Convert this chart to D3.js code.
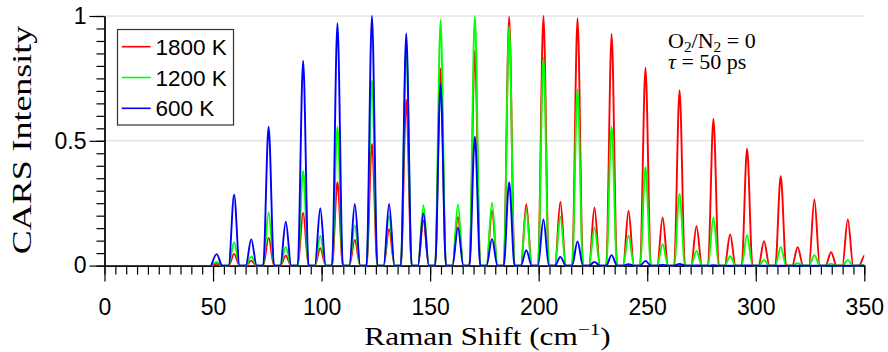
<!DOCTYPE html>
<html>
<head>
<meta charset="utf-8">
<script src="https://cdn.jsdelivr.net/npm/d3@7"></script>
<style>
  body { margin: 0; background: #fff; }
  .axis path, .axis line { stroke: #000; stroke-width: 1.2; }
  .axis text { font-family: "Liberation Sans", Arial, sans-serif; font-size: 23px; fill: #000; }
</style>
</head>
<body>
<script>
// Raman shift of each rotational line (cm^-1)
var peakPos = [51.7, 59.7, 67.6, 75.6, 83.5, 91.5, 99.4, 107.3, 115.3, 123.2,
  131.1, 139.0, 146.9, 154.8, 162.8, 170.6, 178.5, 186.4, 194.3, 202.2,
  210.0, 217.9, 225.7, 233.6, 241.4, 249.2, 257.1, 264.9, 272.7, 280.5,
  288.2, 296.0, 303.8, 311.5, 319.3, 327.0, 334.7, 342.4, 350.1];

// peak heights, one per line
var peaks1800 = [0.007, 0.047, 0.02, 0.112, 0.04, 0.212, 0.07, 0.334, 0.103, 0.487,
  0.146, 0.664, 0.18, 0.79, 0.195, 0.86, 0.22, 0.997, 0.246, 1.0,
  0.256, 0.991, 0.233, 0.928, 0.22, 0.793, 0.193, 0.703, 0.158, 0.588,
  0.125, 0.468, 0.098, 0.359, 0.074, 0.265, 0.054, 0.185, 0.04];
var peaks1200 = [0.015, 0.094, 0.037, 0.214, 0.075, 0.379, 0.12, 0.556, 0.161, 0.743,
  0.2, 0.88, 0.242, 0.984, 0.245, 1.0, 0.252, 0.96, 0.222, 0.833,
  0.196, 0.706, 0.152, 0.556, 0.121, 0.394, 0.086, 0.287, 0.059, 0.193,
  0.038, 0.122, 0.022, 0.074, 0.01, 0.042, 0.008, 0.022, 0.004];
var peaks600 = [0.046, 0.284, 0.106, 0.556, 0.176, 0.821, 0.23, 0.971, 0.247, 1.0,
  0.247, 0.93, 0.21, 0.727, 0.152, 0.516, 0.107, 0.333, 0.062, 0.185,
  0.035, 0.097, 0.015, 0.042, 0.006, 0.019, 0.003, 0.007, 0.001, 0.002,
  0, 0.001, 0, 0, 0, 0, 0, 0, 0];

var seriesNames = ["1800 K", "1200 K", "600 K"];
var seriesColors = ["#ff0000", "#00ff00", "#0000ff"];
var xTicks = [0, 50, 100, 150, 200, 250, 300, 350];
var yTicks = [0, 0.5, 1];
var yTickLabels = ["0", "0.5", "1"];

var width = 888, height = 352;
var halfWidth = 2.5; // half base width of a line, cm^-1

var svg = d3.select("body").append("svg")
  .attr("width", width)
  .attr("height", height)
  .style("font-family", "'Liberation Sans', Arial, sans-serif");

var x = d3.scaleLinear().domain([0, 350]).range([104.5, 864.3]);
var y = d3.scaleLinear().domain([0, 1]).range([265.6, 16]);

// grid
svg.append("g")
  .selectAll("line")
  .data(yTicks.filter(d => d > 0))
  .enter().append("line")
  .attr("x1", x(0)).attr("x2", x(350))
  .attr("y1", d => y(d)).attr("y2", d => y(d))
  .style("stroke", "#d8d8d8")
  .style("stroke-width", 1);

// x axis, minor then major
svg.append("g")
  .attr("class", "axis")
  .attr("transform", `translate(0, ${y(0)})`)
  .call(d3.axisBottom(x).tickValues(d3.range(0, 351, 5)).tickSize(9).tickSizeOuter(0).tickFormat(""));

svg.append("g")
  .attr("class", "axis")
  .attr("transform", `translate(0, ${y(0)})`)
  .call(d3.axisBottom(x).tickValues(xTicks).tickSize(16).tickSizeOuter(0).tickPadding(17));

// y axis
svg.append("g")
  .attr("class", "axis")
  .attr("transform", `translate(${x(0)}, 0)`)
  .call(d3.axisLeft(y).tickValues(d3.range(0, 1.001, 0.05)).tickSize(8).tickSizeOuter(0).tickFormat(""));

svg.append("g")
  .attr("class", "axis")
  .attr("transform", `translate(${x(0)}, 0)`)
  .call(d3.axisLeft(y).tickValues(yTicks).tickSize(15).tickSizeOuter(0).tickPadding(3)
    .tickFormat((d, i) => yTickLabels[i]));

svg.selectAll(".axis .domain").style("stroke-width", 1.3);

// spectra
svg.append("clipPath").attr("id", "plotclip")
  .append("rect")
  .attr("x", x(0)).attr("y", 0)
  .attr("width", x(350) - x(0)).attr("height", y(0) + 4);

function spectrum(heights) {
  var pts = [];
  peakPos.forEach((c, i) => {
    pts.push([c - halfWidth, 0], [c, heights[i]], [c + halfWidth, 0]);
  });
  return pts;
}

var line = d3.line()
  .x(d => x(d[0]))
  .y(d => y(d[1]))
  .curve(d3.curveMonotoneX);

var allSeries = [peaks1800, peaks1200, peaks600];

svg.append("g")
  .attr("clip-path", "url(#plotclip)")
  .selectAll("path")
  .data(allSeries)
  .enter().append("path")
  .attr("d", d => line(spectrum(d)))
  .style("fill", "none")
  .style("stroke", (d, i) => seriesColors[i])
  .style("stroke-width", 1.9)
  .style("stroke-linejoin", "round");

// legend
var legend = svg.append("g");
legend.append("rect")
  .attr("x", 117.5).attr("y", 29.5)
  .attr("width", 116).attr("height", 95.5)
  .style("fill", "#fff")
  .style("stroke", "#333")
  .style("stroke-width", 1.2);

seriesNames.forEach((name, i) => {
  var ly = 46.7 + i * 30.8;
  legend.append("line")
    .attr("x1", 121.7).attr("x2", 150.7)
    .attr("y1", ly).attr("y2", ly)
    .style("stroke", seriesColors[i])
    .style("stroke-width", 1.6);
  legend.append("text")
    .attr("x", 155.5).attr("y", ly)
    .attr("dy", "0.36em")
    .style("font-size", "22.5px")
    .text(name);
});

// axis titles (LaTeX style)
var serif = "'Liberation Serif', 'Times New Roman', serif";

var xt = svg.append("text")
  .attr("transform", "translate(487.5, 345) scale(1.25, 1)")
  .attr("text-anchor", "middle")
  .style("font-family", serif)
  .style("font-size", "25px");
xt.append("tspan").text("Raman Shift (cm");
xt.append("tspan").attr("dy", -10).style("font-size", "17px").text("\u22121");
xt.append("tspan").attr("dy", 10).text(")");

svg.append("text")
  .attr("transform", "translate(31, 140) rotate(-90) scale(1.33, 1)")
  .attr("text-anchor", "middle")
  .style("font-family", serif)
  .style("font-size", "27px")
  .text("CARS Intensity");

// annotation
var a1 = svg.append("text")
  .attr("transform", "translate(668, 48) scale(1.1, 1)")
  .style("font-family", serif)
  .style("font-size", "20px");
a1.append("tspan").text("O");
a1.append("tspan").attr("dy", 4).style("font-size", "14px").text("2");
a1.append("tspan").attr("dy", -4).text("/N");
a1.append("tspan").attr("dy", 4).style("font-size", "14px").text("2");
a1.append("tspan").attr("dy", -4).text(" = 0");

var a2 = svg.append("text")
  .attr("transform", "translate(668, 68.5) scale(1.1, 1)")
  .style("font-family", serif)
  .style("font-size", "20px");
a2.append("tspan").style("font-style", "italic").text("\u03c4");
a2.append("tspan").text(" = 50 ps");
</script>
</body>
</html>
